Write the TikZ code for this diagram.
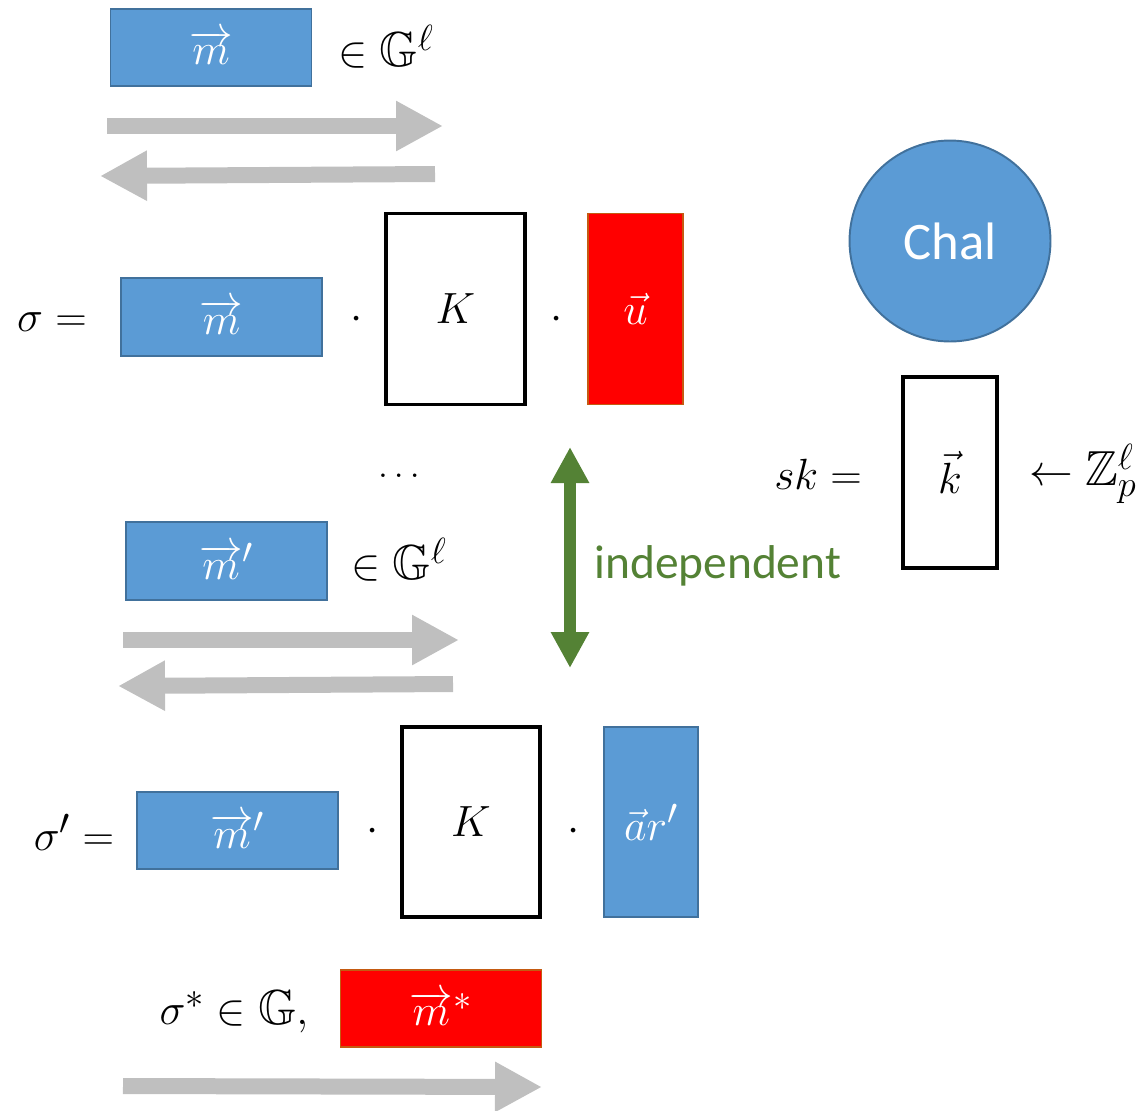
\documentclass[tikz,border=0pt]{standalone}
\usepackage{amsmath,amssymb}
\usepackage{fontspec}
\newfontfamily\calibri{Carlito}
\usetikzlibrary{arrows.meta}
\definecolor{boxblue}{HTML}{5B9BD5}
\definecolor{boxedge}{HTML}{41719C}
\definecolor{keyred}{HTML}{FF0000}
\definecolor{rededge}{HTML}{C55A11}
\definecolor{flowgrey}{HTML}{BFBFBF}
\definecolor{indgreen}{HTML}{548235}
\begin{document}
\begin{tikzpicture}[x=0.02cm,y=-0.02cm,
  every node/.style={font=\fontsize{28}{33}\selectfont, inner sep=0pt},
  bluebox/.style={draw=boxedge, fill=boxblue, line width=1.1pt, text=white},
  redbox/.style={draw=rededge, fill=keyred, line width=1.1pt, text=white},
  matbox/.style={draw=black, line width=1.8pt, fill=white},
  wide/.style={minimum width=4.02cm, minimum height=1.55cm},
  tall/.style={minimum width=1.9cm, minimum height=3.82cm},
  square/.style={minimum width=2.78cm, minimum height=3.82cm},
  flow/.style={draw=flowgrey, line width=0.32cm, line cap=butt,
    -{Triangle[length=0.94cm,width=0.94cm]}},
  twoway/.style={draw=indgreen, line width=0.24cm, line cap=butt,
    {Triangle[length=0.72cm,width=0.72cm]}-{Triangle[length=0.72cm,width=0.72cm]}}]
\useasboundingbox (0,0) rectangle (1141,1110);

% first query
\node[bluebox, wide] (m1) at (211,47.5) {$\overrightarrow{m}$};
\node[anchor=west] (g1) at (338,47) {$\in\mathbb{G}^{\ell}$};
\coordinate (q1s) at (107,126);  \coordinate (q1e) at (443,126);
\coordinate (r1s) at (435,174);  \coordinate (r1e) at (100,176);
\draw[flow] (q1s) -- (q1e);
\draw[flow] (r1s) -- (r1e);

% first signature
\node (s1) at (52,322) {$\sigma=$};
\node[bluebox, wide] (m2) at (221.5,317) {$\overrightarrow{m}$};
\node (d1) at (357,320) {$\cdot$};
\node[matbox, square] (K1) at (455.5,309) {$K$};
\node (d2) at (557,320) {$\cdot$};
\node[redbox, tall] (u) at (635.5,309) {$\vec{u}$};

% challenger and key
\node[circle, draw=boxedge, fill=boxblue, line width=1.1pt, minimum size=4.02cm,
  text=white, font=\calibri\fontsize{30}{36}\selectfont] (chal) at (950,241) {Chal};
\node (sk) at (818,474) {$sk=$};
\node[matbox, minimum width=1.88cm, minimum height=3.82cm] (k) at (950,472.5) {$\vec{k}$};
\node (zp) at (1083,474) {$\leftarrow\mathbb{Z}_p^{\ell}$};

\node[font=\fontsize{20}{24}\selectfont] (dots) at (399,476) {$\ldots$};

% independence of the randomisers
\coordinate (ia) at (570,447); \coordinate (ib) at (570,668);
\draw[twoway] (ia) -- (ib);
\node[anchor=west, text=indgreen, font=\calibri\fontsize{27}{32}\selectfont] (ind) at (594,566) {independent};

% second query
\node[bluebox, wide] (m3) at (226.5,561) {$\overrightarrow{m}'$};
\node[anchor=west] (g2) at (351,560) {$\in\mathbb{G}^{\ell}$};
\coordinate (q2s) at (123,640);  \coordinate (q2e) at (459,640);
\coordinate (r2s) at (453,684);  \coordinate (r2e) at (118,686);
\draw[flow] (q2s) -- (q2e);
\draw[flow] (r2s) -- (r2e);

% second signature
\node (s2) at (74,832) {$\sigma'=$};
\node[bluebox, wide] (m4) at (237.5,830.5) {$\overrightarrow{m}'$};
\node (d3) at (373,832) {$\cdot$};
\node[matbox, minimum width=2.76cm, minimum height=3.8cm] (K2) at (471,822) {$K$};
\node (d4) at (574,832) {$\cdot$};
\node[bluebox, minimum width=1.88cm, minimum height=3.8cm] (ar) at (651,822) {$\vec{a}r'$};

% forgery
\node (fs) at (234,1012) {$\sigma^{*}\in\mathbb{G},$};
\node[redbox, wide] (m5) at (441,1008.5) {$\overrightarrow{m}^{*}$};
\coordinate (q3s) at (123,1086); \coordinate (q3e) at (542,1087);
\draw[flow] (q3s) -- (q3e);
\end{tikzpicture}
\end{document}
